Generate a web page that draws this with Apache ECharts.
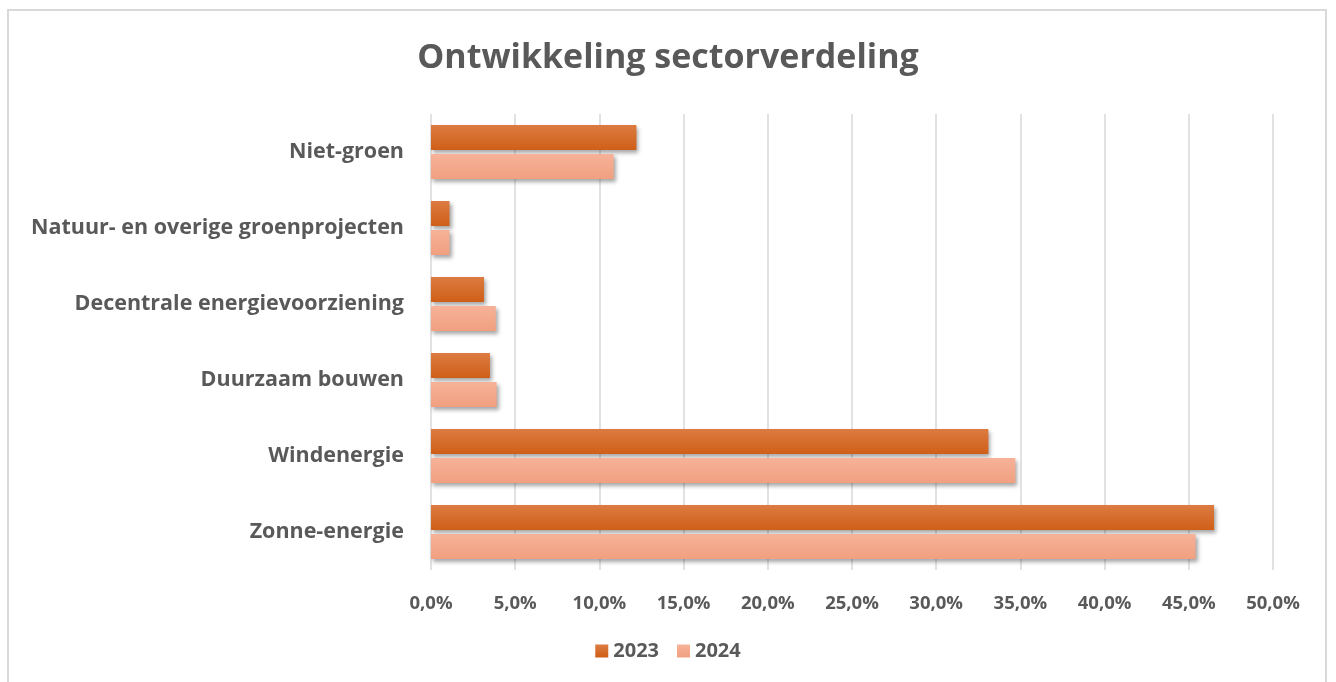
<!DOCTYPE html>
<html><head><meta charset="utf-8">
<script src="https://cdn.jsdelivr.net/npm/echarts@6/dist/echarts.min.js"></script>
<style>
html,body{margin:0;padding:0;background:#fff;}
#frame{position:absolute;left:7px;top:9px;width:1320px;height:720px;border:2px solid #d9d9d9;box-sizing:border-box;}
#main{position:absolute;left:0;top:0;width:1336px;height:682px;}
</style></head>
<body>
<div id="frame"></div>
<div id="main"></div>
<script>
const categories = ['Zonne-energie','Windenergie','Duurzaam bouwen','Decentrale energievoorziening','Natuur- en overige groenprojecten','Niet-groen'];
const seriesNames = ['2023','2024'];
const values2023 = [46.5, 33.1, 3.5, 3.15, 1.1, 12.2];
const values2024 = [45.4, 34.7, 3.9, 3.85, 1.1, 10.85];
const xTicks = {min:0, max:50, interval:5};

const chart = echarts.init(document.getElementById('main'), null, {renderer:'canvas'});
const font = '"Open Sans", "Liberation Sans", sans-serif';
function grad(top, bottom){
  return new echarts.graphic.LinearGradient(0,0,0,1,[{offset:0,color:top},{offset:1,color:bottom}]);
}
chart.setOption({
  animation:false,
  title:{text:'Ontwikkeling sectorverdeling', left:'center', top:36,
    textStyle:{fontFamily:font, fontWeight:'bold', fontSize:34, color:'#595959'}},
  legend:{bottom:16, left:'center', itemWidth:13, itemHeight:13, itemGap:18, icon:'rect',
    textStyle:{fontFamily:font, fontWeight:'bold', fontSize:20, color:'#595959'},
    data:seriesNames},
  grid:{left:431, right:63, top:114, bottom:112, containLabel:false},
  xAxis:{type:'value', min:xTicks.min, max:xTicks.max, interval:xTicks.interval,
    axisLine:{show:false}, axisTick:{show:false},
    splitLine:{lineStyle:{color:'#d9d9d9', width:1.5}},
    axisLabel:{margin:24, fontFamily:font, fontWeight:'bold', fontSize:18.5, color:'#595959',
      formatter:v=>v.toFixed(1).replace('.',',')+'%'}},
  yAxis:{type:'category', data:categories,
    axisLine:{show:false}, axisTick:{show:false},
    axisLabel:{margin:27, fontFamily:font, fontWeight:'bold', fontSize:21.5, color:'#595959'}},
  series:[
    {name:'2023', type:'bar', data:values2023, barWidth:25, barGap:'16%',
      itemStyle:{color:grad('#dc7b42','#cf5f17'), shadowColor:'rgba(0,0,0,0.35)', shadowBlur:4, shadowOffsetX:2, shadowOffsetY:3}},
    {name:'2024', type:'bar', data:values2024, barWidth:25,
      itemStyle:{color:grad('#f6b298','#f0a080'), shadowColor:'rgba(0,0,0,0.35)', shadowBlur:4, shadowOffsetX:2, shadowOffsetY:3}}
  ]
});
</script>
</body></html>
